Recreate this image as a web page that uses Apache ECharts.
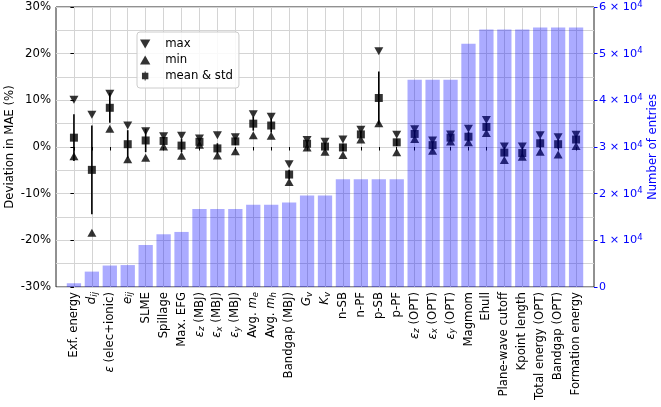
<!DOCTYPE html>
<html>
<head>
<meta charset="utf-8">
<script src="https://cdn.jsdelivr.net/npm/echarts@6/dist/echarts.min.js"></script>
<style>
html,body{margin:0;padding:0;background:#fff;}
#chart{width:661px;height:407px;}
</style>
</head>
<body>
<div id="chart"></div>
<script>
// ---- data ----
const categories = [
  'Exf. energy', '{i|d}{s|ij}', '{i|ε} (elec+ionic)', '{i|e}{s|ij}', 'SLME', 'Spillage', 'Max. EFG',
  '{i|ε}{s|z} (MBJ)', '{i|ε}{s|x} (MBJ)', '{i|ε}{s|y} (MBJ)', 'Avg. {i|m}{s|e}', 'Avg. {i|m}{s|h}',
  'Bandgap (MBJ)', '{i|G}{s|v}', '{i|K}{s|v}', 'n-SB', 'n-PF', 'p-SB', 'p-PF',
  '{i|ε}{s|z} (OPT)', '{i|ε}{s|x} (OPT)', '{i|ε}{s|y} (OPT)', 'Magmom', 'Ehull',
  'Plane-wave cutoff', 'Kpoint length', 'Total energy (OPT)', 'Bandgap (OPT)', 'Formation energy'
];
const maxVals  = [10.1, 6.9, 11.4, 4.6, 3.4, 2.3, 2.4, 1.8, 2.5, 2.1, 7.0, 6.5, -3.7, 1.5, 1.1, 1.6, 3.7, 20.5, 2.6, 3.8, 1.4, 2.7, 3.9, 5.8, 0.1, 0.1, 2.5, 2.1, 2.6];
const minVals  = [-2.0, -18.4, 3.9, -2.6, -2.3, 0.1, -1.9, 0.5, -1.8, -0.9, 2.5, 2.4, -7.5, -0.1, -1.0, -1.7, 1.6, 5.1, -1.1, 1.7, -0.8, 1.2, 1.0, 3.0, -2.8, -2.1, -1.0, -1.6, 0.2];
const meanVals = [2.0, -4.9, 8.4, 0.6, 1.4, 1.3, 0.3, 1.1, -0.3, 1.2, 5.0, 4.6, -5.9, 0.7, 0.1, -0.1, 2.7, 10.5, 1.0, 2.8, 0.4, 2.0, 2.2, 4.3, -1.2, -1.3, 0.8, 0.6, 1.6];
const stdVals  = [5.0, 9.5, 3.2, 3.0, 2.5, 0.8, 1.4, 0.5, 1.1, 0.8, 1.5, 1.5, 1.0, 0.5, 0.6, 0.8, 0.6, 5.7, 0.8, 0.6, 0.6, 0.4, 1.0, 0.8, 0.8, 0.6, 1.0, 1.0, 0.8];
const entryCounts = [800, 3300, 4600, 4700, 9000, 11300, 11800, 16700, 16700, 16700, 17600, 17600, 18100,
  19600, 19600, 23100, 23100, 23100, 23100, 44400, 44400, 44400, 52100, 55200, 55200, 55200, 55600, 55600, 55600];
const leftTicks = [-30, -20, -10, 0, 10, 20, 30];

// ---- build ----
const idx = categories.map((_, i) => i);
const FONT = 'DejaVu Sans';
const FS = 11.7;
const chart = echarts.init(document.getElementById('chart'), null, {renderer: 'canvas'});

const downTri = 'path://M0,0 L10,0 L5,8.7 Z';
const upTri = 'path://M5,0 L10,8.7 L0,8.7 Z';
const meanIcon = 'path://M4.2,0 L5.8,0 L5.8,2 L10,2 L10,12 L5.8,12 L5.8,14 L4.2,14 L4.2,12 L0,12 L0,2 L4.2,2 Z';
const GRID_COLOR = '#d4d4d4';

const option = {
  animation: false,
  textStyle: {fontFamily: FONT},
  grid: {left: 56, right: 67, top: 7, bottom: 120, show: true, borderColor: '#222', borderWidth: 1,
         backgroundColor: 'transparent', outerBoundsMode: 'none', containLabel: false},
  legend: {
    orient: 'vertical', left: 137, top: 32,
    padding: [6, 6, 6, 3], itemGap: 4, itemWidth: 30, itemHeight: 9,
    borderColor: '#cccccc', borderWidth: 1, borderRadius: 3, backgroundColor: 'rgba(255,255,255,0.85)',
    textStyle: {fontSize: FS, color: '#000', fontFamily: FONT},
    data: [
      {name: 'max', icon: downTri},
      {name: 'min', icon: upTri},
      {name: 'mean & std', icon: meanIcon}
    ]
  },
  xAxis: {
    type: 'value', min: -1, max: 29, interval: 1,
    axisLine: {show: false},
    axisTick: {show: true, length: 3.5, lineStyle: {color: '#000'}, customValues: idx},
    splitLine: {show: true, lineStyle: {color: GRID_COLOR, width: 1}},
    axisLabel: {
      customValues: idx,
      rotate: 90, margin: 5, fontSize: FS, color: '#000', fontFamily: FONT,
      formatter: v => categories[Math.round(v)] || '',
      rich: {
        i: {fontStyle: 'italic', fontSize: FS, fontFamily: FONT, color: '#000'},
        s: {fontStyle: 'italic', fontSize: 8.5, fontFamily: FONT, color: '#000', verticalAlign: 'bottom', padding: [5, 0, 0, 0]}
      }
    }
  },
  yAxis: [
    {
      type: 'value', min: -30, max: 30, interval: 10, position: 'left',
      name: 'Deviation in MAE (%)', nameLocation: 'middle', nameRotate: 90, nameGap: 40,
      nameMoveOverlap: false,
      nameTextStyle: {fontSize: FS, color: '#000', fontFamily: FONT},
      axisLine: {show: false},
      axisTick: {show: true, length: 3.5, lineStyle: {color: '#000'}},
      axisLabel: {fontSize: FS, color: '#000', margin: 5, fontFamily: FONT, formatter: v => leftTicks.includes(v) ? v + '%' : ''},
      splitLine: {show: true, lineStyle: {color: GRID_COLOR, width: 1}},
      minorTick: {show: false, splitNumber: 2},
      minorSplitLine: {show: true, lineStyle: {color: GRID_COLOR, width: 1}}
    },
    {
      type: 'value', min: 0, max: 60000, interval: 10000, position: 'right',
      name: 'Number of entries', nameLocation: 'middle', nameRotate: 90, nameGap: 53,
      nameMoveOverlap: false,
      nameTextStyle: {fontSize: FS, color: '#0000ff', fontFamily: FONT},
      axisLine: {show: false},
      axisTick: {show: true, length: 3.5, lineStyle: {color: '#0000ff'}},
      splitLine: {show: false},
      axisLabel: {
        fontSize: 11, color: '#0000ff', margin: 5, fontFamily: FONT,
        formatter: v => v === 0 ? '0' : '{a|' + (v / 10000) + ' × 10}{b|4}',
        rich: {
          a: {fontSize: 11.3, color: '#0000ff', fontFamily: FONT},
          b: {fontSize: 8.5, color: '#0000ff', fontFamily: FONT, verticalAlign: 'top', padding: [0, 0, 5, 0]}
        }
      }
    }
  ],
  series: [
    {
      name: 'std', type: 'custom', xAxisIndex: 0, yAxisIndex: 0, z: 2,
      data: idx.map(i => [i, meanVals[i], stdVals[i]]),
      encode: {x: 0, y: 1},
      renderItem: (params, api) => {
        const x = api.value(0), m = api.value(1), s = api.value(2);
        const p1 = api.coord([x, m - s]);
        const p2 = api.coord([x, m + s]);
        return {type: 'line', shape: {x1: p1[0], y1: p1[1], x2: p2[0], y2: p2[1]}, style: {stroke: '#000', lineWidth: 1.6}};
      }
    },
    {
      name: 'max', type: 'scatter', yAxisIndex: 0, z: 3,
      symbol: downTri, symbolSize: [9, 8],
      itemStyle: {color: '#000'},
      data: idx.map(i => [i, maxVals[i]])
    },
    {
      name: 'min', type: 'scatter', yAxisIndex: 0, z: 3,
      symbol: upTri, symbolSize: [9, 8],
      itemStyle: {color: '#000'},
      data: idx.map(i => [i, minVals[i]])
    },
    {
      name: 'mean & std', type: 'scatter', yAxisIndex: 0, z: 3,
      symbol: 'rect', symbolSize: 8,
      itemStyle: {color: '#000'},
      data: idx.map(i => [i, meanVals[i]])
    },
    {
      name: 'entries', type: 'bar', yAxisIndex: 1, z: 5,
      barWidth: 14.3,
      itemStyle: {color: 'rgba(0,0,255,0.33)'},
      data: idx.map(i => [i, entryCounts[i]])
    }
  ]
};
chart.setOption(option);
</script>
</body>
</html>
